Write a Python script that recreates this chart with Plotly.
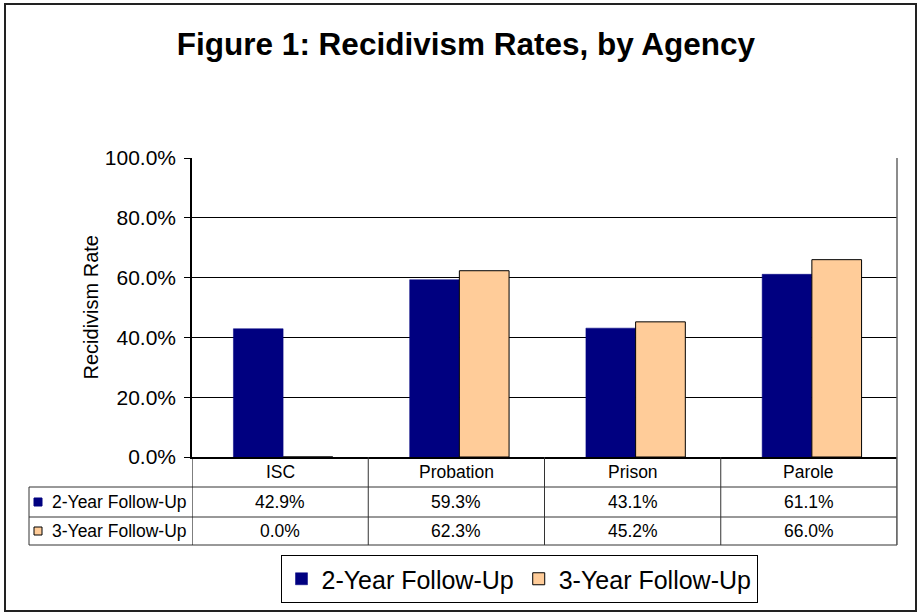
import plotly.graph_objects as go

categories = ["ISC", "Probation", "Prison", "Parole"]
series_names = ["2-Year Follow-Up", "3-Year Follow-Up"]
two_year = [42.9, 59.3, 43.1, 61.1]
three_year = [0.0, 62.3, 45.2, 66.0]
y_ticks = [0, 20, 40, 60, 80, 100]

NAVY = "#000080"
PEACH = "#FFCC99"
FONT = "Arial, Liberation Sans, sans-serif"

W, H = 920, 614
L, R, T, B = 192, 23, 158, 157
PW, PH = W - L - R, H - T - B


def px_x(p):
    return (p - L) / PW


def px_y(p):
    return (H - B - p) / PH


BW = 0.282
fig = go.Figure()
fig.add_trace(go.Bar(x=categories, y=two_year, name=series_names[0], width=BW, offset=-0.265,
                     marker=dict(color=NAVY, line=dict(color=NAVY, width=0.5))))
fig.add_trace(go.Bar(x=categories, y=three_year, name=series_names[1], width=BW, offset=0.017,
                     marker=dict(color=PEACH, line=dict(color="#000000", width=1))))

shapes = []
line_col = "#333333"
row_y = [0, px_y(487), px_y(517), px_y(545)]
x_left_lab = px_x(29)
for yy in row_y[1:]:
    shapes.append(dict(type="line", xref="paper", yref="paper", x0=x_left_lab, x1=1,
                       y0=yy, y1=yy, line=dict(color=line_col, width=1)))
for k in range(len(categories) + 1):
    shapes.append(dict(type="line", xref="x", yref="paper", x0=k - 0.5, x1=k - 0.5,
                       y0=row_y[3], y1=0,
                       line=dict(color=line_col if 0 < k < len(categories) else "#000000", width=1)))
shapes.append(dict(type="line", xref="paper", yref="paper", x0=1, x1=1, y0=row_y[3], y1=1,
                   line=dict(color="#666666", width=1.5)))
shapes.append(dict(type="line", xref="paper", yref="paper", x0=x_left_lab, x1=x_left_lab,
                   y0=row_y[3], y1=row_y[1], line=dict(color=line_col, width=1)))
key_cols = [(NAVY, NAVY), (PEACH, "#000000")]
for r, (fc, lc) in enumerate(key_cols):
    cy = (row_y[r + 1] + row_y[r + 2]) / 2
    shapes.append(dict(type="rect", xref="paper", yref="paper",
                       x0=px_x(34), x1=px_x(42), y0=cy - 4 / PH, y1=cy + 4 / PH,
                       fillcolor=fc, line=dict(color=lc, width=1)))
shapes.append(dict(type="rect", xref="paper", yref="paper", x0=px_x(5), x1=px_x(916),
                   y0=px_y(611), y1=px_y(4), line=dict(color="#222222", width=2)))

TFS = 17.5
annotations = []
hdr_y = (row_y[0] + row_y[1]) / 2
for c in categories:
    annotations.append(dict(x=c, y=hdr_y, xref="x", yref="paper", text=c, showarrow=False,
                            xanchor="center", yanchor="middle",
                            font=dict(size=TFS, family=FONT, color="black")))
for r, vals in enumerate([two_year, three_year]):
    cy = (row_y[r + 1] + row_y[r + 2]) / 2
    annotations.append(dict(x=px_x(50), y=cy, xref="paper", yref="paper", text=series_names[r],
                            showarrow=False, xanchor="left", yanchor="middle",
                            font=dict(size=TFS, family=FONT, color="black")))
    for c, v in zip(categories, vals):
        annotations.append(dict(x=c, y=cy, xref="x", yref="paper", text=f"{v:.1f}%",
                                showarrow=False, xanchor="center", yanchor="middle",
                                font=dict(size=TFS, family=FONT, color="black")))
annotations.append(dict(x=px_x(90), y=0.5, xref="paper", yref="paper", text="Recidivism Rate",
                        textangle=-90, showarrow=False, xanchor="center", yanchor="middle",
                        font=dict(size=20, family=FONT, color="black")))

fig.update_layout(
    width=W, height=H,
    margin=dict(l=L, r=R, t=T, b=B, autoexpand=False),
    paper_bgcolor="white", plot_bgcolor="white",
    barmode="overlay",
    title=dict(text="<b>Figure 1: Recidivism Rates, by Agency</b>", x=466 / W, xanchor="center",
               xref="container", y=1 - 44 / H, yanchor="middle",
               font=dict(size=31.5, family=FONT, color="black")),
    font=dict(family=FONT, color="black"),
    xaxis=dict(showticklabels=False, showline=True, linecolor="black", linewidth=1.5,
               ticks="", showgrid=False, zeroline=False, range=[-0.5, 3.5], layer="above traces"),
    yaxis=dict(range=[0, 100], tickvals=y_ticks, ticktext=[f"{v:.1f}%" for v in y_ticks],
               tickfont=dict(size=21, family=FONT, color="black"),
               ticks="outside", ticklen=6, tickcolor="black", tickwidth=1,
               ticklabelstandoff=4,
               showline=True, linecolor="black", linewidth=1.5,
               showgrid=True, gridcolor="black", gridwidth=1, zeroline=False),
    legend=dict(orientation="h", xref="container", yref="container",
                x=519 / W, xanchor="center", y=1 - 555 / H, yanchor="top",
                font=dict(size=25, family=FONT, color="black"),
                bordercolor="black", borderwidth=1, bgcolor="white",
                itemwidth=30, tracegroupgap=0),
    shapes=shapes,
    annotations=annotations,
    showlegend=True,
)

fig.write_html("out.html", config={"displayModeBar": False},
               post_script="document.body.style.margin='0';document.body.style.padding='0';"
                           "document.body.style.overflow='hidden';")
